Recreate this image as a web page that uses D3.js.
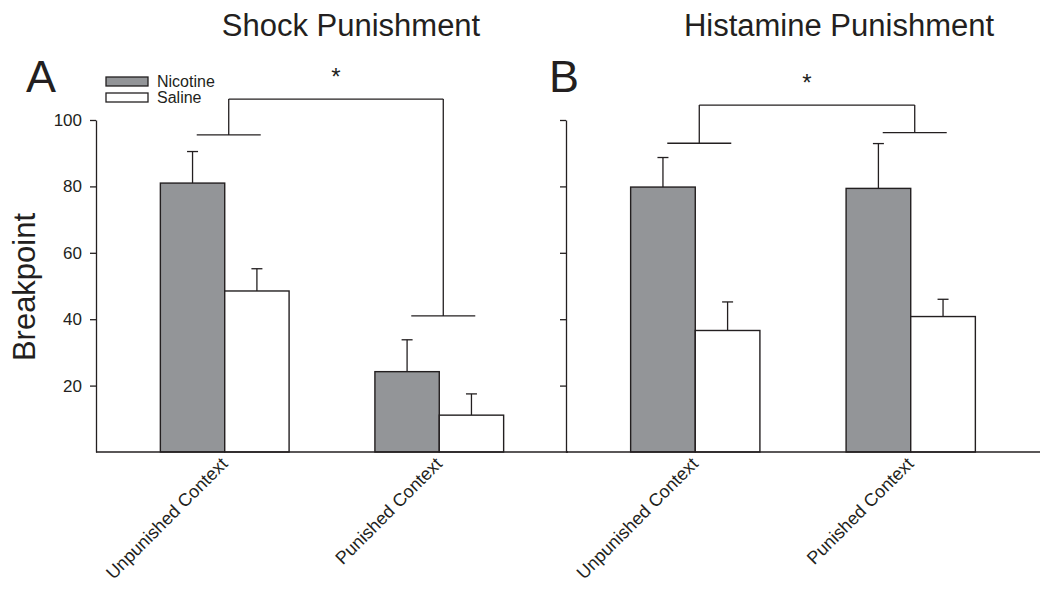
<!DOCTYPE html>
<html><head><meta charset="utf-8">
<script src="https://cdn.jsdelivr.net/npm/d3@7"></script>
<style>body{margin:0;background:#fff;} text{font-family:"Liberation Sans",Arial,sans-serif;fill:#231f20;}</style>
</head><body><svg id="c" width="1050" height="600"></svg>
<script>
const contexts = ["Unpunished Context", "Punished Context"];
const seriesNames = ["Nicotine", "Saline"];
const panelTitles = ["Shock Punishment", "Histamine Punishment"];
const panelLetters = ["A", "B"];
const yTicks = [20, 40, 60, 80, 100];
// Shock punishment
const shockNicotine = [81.0, 24.2];
const shockNicotineErr = [9.5, 9.6];
const shockSaline = [48.5, 11.1];
const shockSalineErr = [6.7, 6.4];
// Histamine punishment
const histNicotine = [79.8, 79.4];
const histNicotineErr = [8.9, 13.5];
const histSaline = [36.6, 40.8];
const histSalineErr = [8.6, 5.2];
// significance brackets: [left group level, right group level, top level]
const shockBracket = [95.5, 41.0, 106.3];
const histBracket = [93.0, 96.2, 104.5];

const colors = {Nicotine: "#939598", Saline: "#ffffff"};
const svg = d3.select("#c");
const y = d3.scaleLinear().domain([0, 100]).range([452, 120]);

const panels = [
  {range: [96, 568], nic: shockNicotine, nicE: shockNicotineErr, sal: shockSaline, salE: shockSalineErr, br: shockBracket},
  {range: [566, 1040], nic: histNicotine, nicE: histNicotineErr, sal: histSaline, salE: histSalineErr, br: histBracket}
];

panels.forEach((p, pi) => {
  const x = d3.scaleBand().domain(contexts).range(p.range).paddingInner(0.4).paddingOuter(0.3);
  const xs = d3.scaleBand().domain(seriesNames).range([0, x.bandwidth()]);
  const g = svg.append("g");
  const rows = contexts.map((c, i) => [
    {c, s: "Nicotine", v: p.nic[i], e: p.nicE[i]},
    {c, s: "Saline", v: p.sal[i], e: p.salE[i]}
  ]).flat();
  // error bars (upward)
  rows.forEach(d => {
    const cx = x(d.c) + xs(d.s) + xs.bandwidth() / 2;
    g.append("line").attr("x1", cx).attr("x2", cx).attr("y1", y(d.v)).attr("y2", y(d.v + d.e))
      .attr("stroke", "#231f20").attr("stroke-width", 1.3);
    g.append("line").attr("x1", cx - 5.5).attr("x2", cx + 5.5).attr("y1", y(d.v + d.e)).attr("y2", y(d.v + d.e))
      .attr("stroke", "#231f20").attr("stroke-width", 1.3);
  });
  g.selectAll("rect.bar").data(rows).join("rect").attr("class", "bar")
    .attr("x", d => x(d.c) + xs(d.s)).attr("width", xs.bandwidth())
    .attr("y", d => y(d.v)).attr("height", d => y(0) - y(d.v))
    .attr("fill", d => colors[d.s]).attr("stroke", "#231f20").attr("stroke-width", 1.4);

  // y axis
  const ax = g.append("g").attr("transform", `translate(${p.range[0]},0)`)
    .call(d3.axisLeft(y).tickValues(yTicks).tickSize(6).tickSizeOuter(0).tickPadding(8)
      .tickFormat(pi === 0 ? d3.format("d") : () => ""));
  ax.select(".domain").attr("stroke", "#231f20").attr("stroke-width", 1.3);
  ax.selectAll(".tick line").attr("stroke", "#231f20").attr("stroke-width", 1.3);
  ax.selectAll(".tick text").style("font-size", "17px").attr("fill", "#231f20");

  // baseline
  g.append("line").attr("x1", p.range[0]).attr("x2", p.range[1]).attr("y1", y(0)).attr("y2", y(0))
    .attr("stroke", "#231f20").attr("stroke-width", 1.6);

  // x labels
  contexts.forEach(c => {
    const cx = x(c) + x.bandwidth() / 2 + 4;
    g.append("text").attr("transform", `translate(${cx},${y(0) + 13}) rotate(-45)`)
      .attr("text-anchor", "end").style("font-size", "18px").text(c);
  });

  // brackets
  const c0 = x(contexts[0]) + x.bandwidth() / 2 + 4;
  const c1 = x(contexts[1]) + x.bandwidth() / 2 + 4;
  const bs = {stroke: "#231f20", "stroke-width": 1.3};
  const ln = (x1, y1, x2, y2) => { const l = g.append("line").attr("x1", x1).attr("y1", y1).attr("x2", x2).attr("y2", y2); Object.entries(bs).forEach(([k, v]) => l.attr(k, v)); };
  ln(c0 - 32, y(p.br[0]), c0 + 32, y(p.br[0]));
  ln(c1 - 32, y(p.br[1]), c1 + 32, y(p.br[1]));
  ln(c0, y(p.br[0]), c0, y(p.br[2]));
  ln(c1, y(p.br[1]), c1, y(p.br[2]));
  ln(c0, y(p.br[2]), c1, y(p.br[2]));
  g.append("text").attr("x", (c0 + c1) / 2).attr("y", y(p.br[2]) - 14).attr("text-anchor", "middle")
    .style("font-size", "24px").text("*");

  // title and letter
  svg.append("text").attr("x", pi === 0 ? 351 : 839).attr("y", 36).attr("text-anchor", "middle")
    .style("font-size", "31px").text(panelTitles[pi]);
  svg.append("text").attr("x", p.range[0] - (pi === 0 ? 70 : 17)).attr("y", 92)
    .style("font-size", "45px").text(panelLetters[pi]);
});

// y label
svg.append("text").attr("transform", "translate(35,287) rotate(-90)").attr("text-anchor", "middle")
  .style("font-size", "31px").text("Breakpoint");

// legend
const lg = svg.append("g").attr("transform", "translate(106,77)");
seriesNames.forEach((s, i) => {
  lg.append("rect").attr("x", 0).attr("y", i * 16).attr("width", 42).attr("height", 9)
    .attr("fill", colors[s]).attr("stroke", "#231f20").attr("stroke-width", 1.3);
  lg.append("text").attr("x", 51).attr("y", i * 16 + 10).style("font-size", "16px").text(s);
});
</script></body></html>
